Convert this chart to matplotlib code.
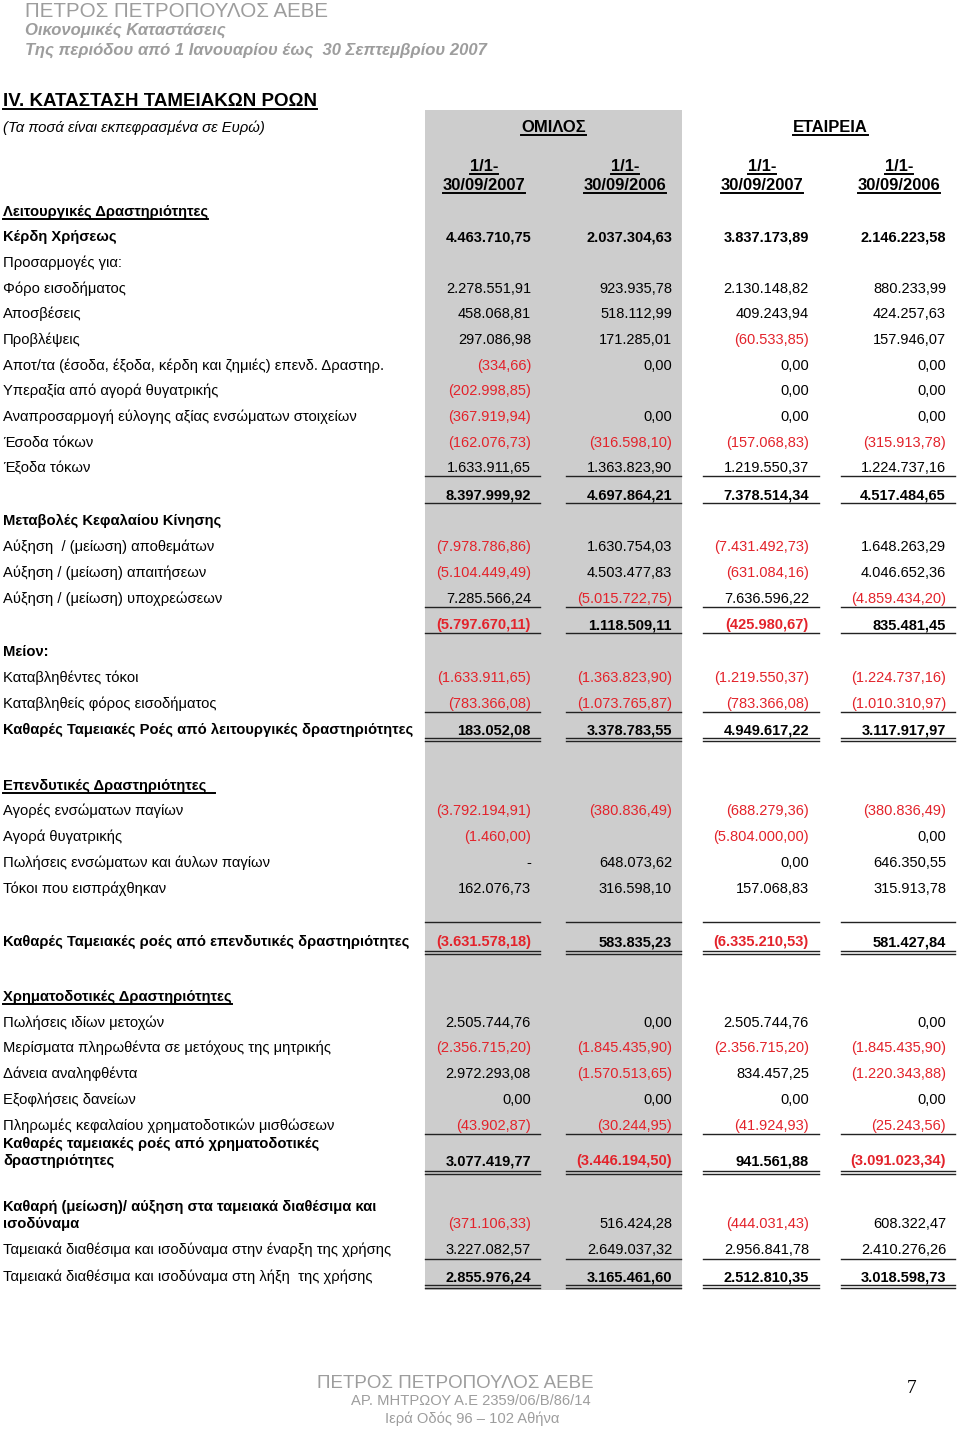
import matplotlib
matplotlib.use("Agg")
import matplotlib.pyplot as plt
import numpy as np

plt.rcParams['font.family'] = ['Liberation Sans', 'DejaVu Sans']

# ---------------- DATA ----------------
company = "ΠΕΤΡΟΣ ΠΕΤΡΟΠΟΥΛΟΣ ΑΕΒΕ"
subtitle1 = "Οικονομικές Καταστάσεις"
subtitle2 = "Της περιόδου από 1 Ιανουαρίου έως  30 Σεπτεμβρίου 2007"
statement_title = "IV. ΚΑΤΑΣΤΑΣΗ ΤΑΜΕΙΑΚΩΝ ΡΟΩΝ"
currency_note = "(Τα ποσά είναι εκπεφρασμένα σε Ευρώ)"
groups = ["ΟΜΙΛΟΣ", "ΕΤΑΙΡΕΙΑ"]
periods = ["1/1-\n30/09/2007", "1/1-\n30/09/2006", "1/1-\n30/09/2007", "1/1-\n30/09/2006"]
footer_lines = ["ΠΕΤΡΟΣ ΠΕΤΡΟΠΟΥΛΟΣ ΑΕΒΕ", "ΑΡ. ΜΗΤΡΩΟΥ Α.Ε 2359/06/Β/86/14", "Ιερά Οδός 96 – 102 Αθήνα"]
page_number = "7"

labels = [
    "Λειτουργικές Δραστηριότητες",
    "Κέρδη Χρήσεως",
    "Προσαρμογές για:",
    "Φόρο εισοδήματος",
    "Αποσβέσεις",
    "Προβλέψεις",
    "Αποτ/τα (έσοδα, έξοδα, κέρδη και ζημιές) επενδ. Δραστηρ.",
    "Υπεραξία από αγορά θυγατρικής",
    "Αναπροσαρμογή εύλογης αξίας ενσώματων στοιχείων",
    "Έσοδα τόκων",
    "Έξοδα τόκων",
    "",
    "Μεταβολές Κεφαλαίου Κίνησης",
    "Αύξηση  / (μείωση) αποθεμάτων",
    "Αύξηση / (μείωση) απαιτήσεων",
    "Αύξηση / (μείωση) υποχρεώσεων",
    "",
    "Μείον:",
    "Καταβληθέντες τόκοι",
    "Καταβληθείς φόρος εισοδήματος",
    "Καθαρές Ταμειακές Ροές από λειτουργικές δραστηριότητες",
    "Επενδυτικές Δραστηριότητες  ",
    "Αγορές ενσώματων παγίων",
    "Αγορά θυγατρικής",
    "Πωλήσεις ενσώματων και άυλων παγίων",
    "Τόκοι που εισπράχθηκαν",
    "Καθαρές Ταμειακές ροές από επενδυτικές δραστηριότητες",
    "Χρηματοδοτικές Δραστηριότητες",
    "Πωλήσεις ιδίων μετοχών",
    "Μερίσματα πληρωθέντα σε μετόχους της μητρικής",
    "Δάνεια αναληφθέντα",
    "Εξοφλήσεις δανείων",
    "Πληρωμές κεφαλαίου χρηματοδοτικών μισθώσεων",
    "Καθαρές ταμειακές ροές από χρηματοδοτικές\nδραστηριότητες",
    "Καθαρή (μείωση)/ αύξηση στα ταμειακά διαθέσιμα και\nισοδύναμα",
    "Ταμειακά διαθέσιμα και ισοδύναμα στην έναρξη της χρήσης",
    "Ταμειακά διαθέσιμα και ισοδύναμα στη λήξη  της χρήσης",
]

N = None
group_2007 = [N, 4463710.75, N, 2278551.91, 458068.81, 297086.98, -334.66, -202998.85, -367919.94,
              -162076.73, 1633911.65, 8397999.92, N, -7978786.86, -5104449.49, 7285566.24,
              -5797670.11, N, -1633911.65, -783366.08, 183052.08, N, -3792194.91, -1460.00, "-",
              162076.73, -3631578.18, N, 2505744.76, -2356715.20, 2972293.08, 0.00, -43902.87,
              3077419.77, -371106.33, 3227082.57, 2855976.24]
group_2006 = [N, 2037304.63, N, 923935.78, 518112.99, 171285.01, 0.00, N, 0.00,
              -316598.10, 1363823.90, 4697864.21, N, 1630754.03, 4503477.83, -5015722.75,
              1118509.11, N, -1363823.90, -1073765.87, 3378783.55, N, -380836.49, N, 648073.62,
              316598.10, 583835.23, N, 0.00, -1845435.90, -1570513.65, 0.00, -30244.95,
              -3446194.50, 516424.28, 2649037.32, 3165461.60]
company_2007 = [N, 3837173.89, N, 2130148.82, 409243.94, -60533.85, 0.00, 0.00, 0.00,
                -157068.83, 1219550.37, 7378514.34, N, -7431492.73, -631084.16, 7636596.22,
                -425980.67, N, -1219550.37, -783366.08, 4949617.22, N, -688279.36, -5804000.00, 0.00,
                157068.83, -6335210.53, N, 2505744.76, -2356715.20, 834457.25, 0.00, -41924.93,
                941561.88, -444031.43, 2956841.78, 2512810.35]
company_2006 = [N, 2146223.58, N, 880233.99, 424257.63, 157946.07, 0.00, 0.00, 0.00,
                -315913.78, 1224737.16, 4517484.65, N, 1648263.29, 4046652.36, -4859434.20,
                835481.45, N, -1224737.16, -1010310.97, 3117917.97, N, -380836.49, 0.00, 646350.55,
                315913.78, 581427.84, N, 0.00, -1845435.90, -1220343.88, 0.00, -25243.56,
                -3091023.34, 608322.47, 2410276.26, 3018598.73]

# ---------------- LAYOUT / STYLE ----------------
row_y = [211, 236, 262, 288, 313, 339, 365, 390, 416, 442, 467, 494, 520, 546, 572, 598, 624,
         651, 677, 703, 729, 785, 810, 836, 862, 888, 941, 996, 1022, 1047, 1073, 1099, 1125,
         1160, 1223, 1249, 1276]
label_bold = {0, 1, 12, 17, 20, 21, 26, 27, 33, 34}
label_underline = {0, 21, 27}
value_bold = {1, 11, 16, 20, 26, 33, 36}
single_after = {10: 9, 11: 9, 15: 9, 16: 9, 19: 9, 32: 9, 35: 10}
double_after = {20: 9, 26: 10, 33: 11, 36: 9}
single_before = {26: -19}

col_right = [531, 672, 809, 946]
col_center = [484, 625, 762, 899]
line_x = [(425, 540), (566, 681), (703, 819), (841, 955)]
band = (425, 682, 110, 1290)

RED = "#e3232b"
BLACK = "#000000"
TITLE_GRAY = "#9d9d9d"
BAND_GRAY = "#cdcdcd"
FS = 10.65
VFS = 10.5

fig = plt.figure(figsize=(9.6, 14.29), dpi=100)
ax = fig.add_axes([0, 0, 1, 1])
ax.set_xlim(0, 960)
ax.set_ylim(1429, 0)
ax.axis("off")

ax.add_patch(plt.Rectangle((band[0], band[2]), band[1] - band[0], band[3] - band[2],
                           facecolor=BAND_GRAY, edgecolor="none", zorder=0))

underlined = []

def txt(x, y, s, **kw):
    ul = kw.pop("underline", False)
    t = ax.text(x, y, s, va="baseline", **kw)
    if ul:
        underlined.append(t)
    return t

def fmt(v):
    if isinstance(v, str):
        return v, BLACK
    s = f"{abs(v):,.2f}".replace(",", "X").replace(".", ",").replace("X", ".")
    if v < 0:
        return "(" + s + ")", RED
    return s, BLACK

# header
txt(25, 17, company, fontsize=14.8, color=TITLE_GRAY)
txt(25, 35, subtitle1, fontsize=12, color=TITLE_GRAY, fontweight="bold", fontstyle="italic")
txt(25, 55, subtitle2, fontsize=12, color=TITLE_GRAY, fontweight="bold", fontstyle="italic")
txt(3, 106, statement_title, fontsize=13.5, fontweight="bold", underline=True)
txt(3, 132, currency_note, fontsize=10.7, fontstyle="italic")
txt((col_center[0] + col_center[1]) / 2 - 1, 132, groups[0], fontsize=11.9, fontweight="bold",
    ha="center", underline=True)
txt((col_center[2] + col_center[3]) / 2, 132, groups[1], fontsize=11.9, fontweight="bold",
    ha="center", underline=True)
for i, p in enumerate(periods):
    a, b = p.split("\n")
    txt(col_center[i], 171, a, fontsize=11.9, fontweight="bold", ha="center", underline=True)
    txt(col_center[i], 190, b, fontsize=11.9, fontweight="bold", ha="center", underline=True)

# rows
columns = [group_2007, group_2006, company_2007, company_2006]
for i, lab in enumerate(labels):
    y = row_y[i]
    if lab:
        lines = lab.split("\n")
        for k, part in enumerate(reversed(lines)):
            txt(3, y + 5 - k * 17, part, fontsize=FS,
                fontweight="bold" if i in label_bold else "normal",
                underline=(i in label_underline))
    for c, col in enumerate(columns):
        v = col[i]
        if v is None:
            continue
        s, color = fmt(v)
        txt(col_right[c], y + 5, s, fontsize=VFS, ha="right", color=color,
            fontweight="bold" if i in value_bold else "normal")
    for c in range(4):
        x0, x1 = line_x[c]
        if i in single_after:
            ax.plot([x0, x1], [y + single_after[i]] * 2, color="#222222", lw=1.0)
        if i in double_after:
            yy = y + double_after[i]
            ax.plot([x0, x1], [yy, yy], color="#222222", lw=1.0)
            ax.plot([x0, x1], [yy + 3, yy + 3], color="#222222", lw=1.0)
        if i in single_before:
            ax.plot([x0, x1], [y + single_before[i]] * 2, color="#222222", lw=1.0)

# footer
txt(455, 1388, footer_lines[0], fontsize=13.5, color=TITLE_GRAY, ha="center")
txt(471, 1405, footer_lines[1], fontsize=10.6, color=TITLE_GRAY, ha="center")
txt(472, 1423, footer_lines[2], fontsize=10.6, color=TITLE_GRAY, ha="center")
txt(912, 1393, page_number, fontsize=14, ha="center", family="Liberation Serif")

# underlines
fig.canvas.draw()
r = fig.canvas.get_renderer()
inv = ax.transData.inverted()
for t in underlined:
    bb = t.get_window_extent(r)
    (x0, _), (x1, _) = inv.transform([(bb.x0, bb.y0), (bb.x1, bb.y0)])
    _, yb = t.get_position()
    lw = 1.4 if t.get_fontweight() in ("bold", 700) else 1.0
    ax.plot([x0, x1], [yb + 2.5, yb + 2.5], color=t.get_color(), lw=lw)

fig.savefig("out.png", dpi=100)
